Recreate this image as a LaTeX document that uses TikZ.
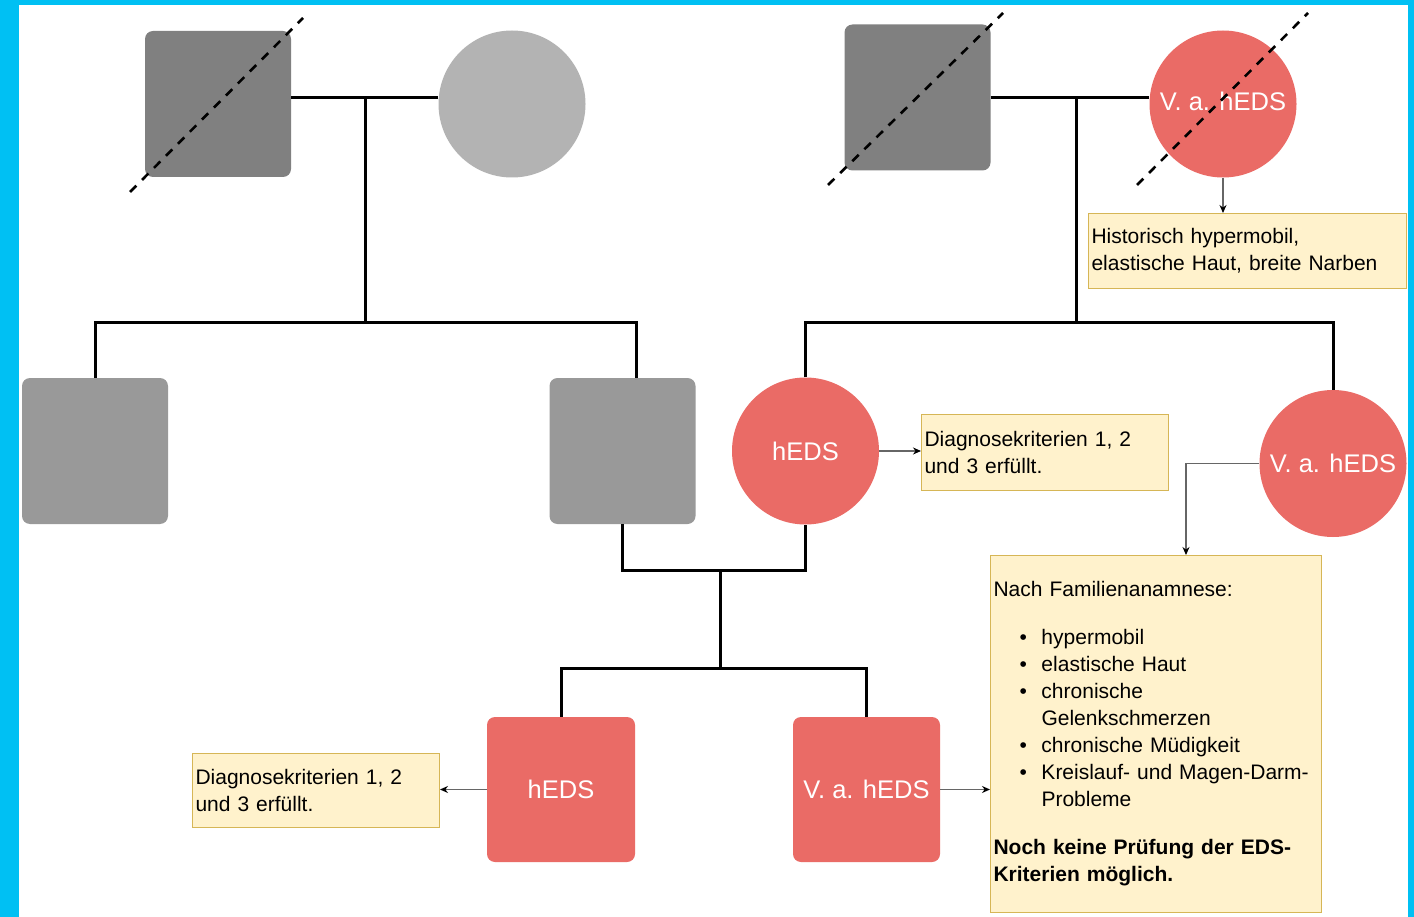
\documentclass[tikz,border=0pt]{standalone}
\usepackage{fontspec}
\setmainfont{Liberation Sans}
\usetikzlibrary{arrows.meta,calc}
\definecolor{bluebg}{RGB}{0,192,243}
\definecolor{reddx}{HTML}{EA6B66}
\definecolor{notefill}{HTML}{FFF2CC}
\definecolor{notedraw}{HTML}{D6B656}
\definecolor{darkg}{HTML}{808080}
\definecolor{midg}{HTML}{999999}
\definecolor{lightg}{HTML}{B3B3B3}
\begin{document}
\begin{tikzpicture}[x=1pt,y=-1pt,
  sqbox/.style={rectangle, rounded corners=8pt, minimum width=146pt, minimum height=146pt, inner sep=0pt},
  circ/.style={circle, minimum size=147pt, inner sep=0pt},
  lbl/.style={text=white, font=\fontsize{25.5}{30}\selectfont},
  note/.style={draw=notedraw, fill=notefill, line width=1pt, inner xsep=3pt, inner ysep=0pt, align=left, font=\fontsize{21}{27}\selectfont, anchor=north west},
  ped/.style={line width=3pt, draw=black},
  conn/.style={line width=1.2pt, draw=black!60, -{Stealth[length=8pt,width=7pt,black]}},
  dashdiag/.style={line width=2.6pt, draw=black, dash pattern=on 9pt off 8pt}
]
\useasboundingbox (0,0) rectangle (1414,917);
\fill[bluebg] (0,0) rectangle (1414,917);
\fill[white] (19,5) rectangle (1408,917);

% generation I
\node[sqbox, fill=darkg] (sq1) at (218,104) {};
\node[circ, fill=lightg] (c1) at (512,104) {};
\node[sqbox, fill=darkg] (sq2) at (917.5,97.5) {};
\node[circ, fill=reddx, lbl] (c2) at (1223,104) {\raisebox{6pt}{V. a. hEDS}};

% generation II
\node[sqbox, fill=midg] (b1) at (95,451) {};
\node[sqbox, fill=midg] (b2) at (622.5,451) {};
\node[circ, fill=reddx, lbl] (h1) at (805.5,451) {hEDS};
\node[circ, fill=reddx, lbl] (c3) at (1333,463.5) {V. a. hEDS};

% generation III
\node[sqbox, fill=reddx, lbl, minimum width=148pt, minimum height=145pt] (k1) at (561,789.5) {hEDS};
\node[sqbox, fill=reddx, lbl, minimum width=147pt, minimum height=145pt] (k2) at (866.5,789.5) {V. a. hEDS};

% notes
\node[note, text width=312pt, minimum height=75pt] (n1) at (1088,213) {Historisch hypermobil,\\elastische Haut, breite Narben};
\node[note, text width=241pt, minimum height=76pt] (n2) at (921,414) {Diagnosekriterien 1, 2\\und 3 erfüllt.};
\node[note, text width=241pt, minimum height=74pt] (n4) at (192,753) {Diagnosekriterien 1, 2\\und 3 erfüllt.};
\node[note, text width=325pt, minimum height=357pt] (n3) at (990,555) {Nach Familienanamnese:\\[21pt]
\hspace*{26pt}\makebox[22pt][l]{\textbullet}hypermobil\\
\hspace*{26pt}\makebox[22pt][l]{\textbullet}elastische Haut\\
\hspace*{26pt}\makebox[22pt][l]{\textbullet}chronische\\
\hspace*{48pt}Gelenkschmerzen\\
\hspace*{26pt}\makebox[22pt][l]{\textbullet}chronische Müdigkeit\\
\hspace*{26pt}\makebox[22pt][l]{\textbullet}Kreislauf- und Magen-Darm-\\
\hspace*{48pt}Probleme\\[21pt]
\textbf{Noch keine Prüfung der EDS-}\\
\textbf{Kriterien möglich.}};

% coordinates
\coordinate (m1) at (365,98);
\coordinate (s1) at (365,323);
\coordinate (m2) at (1076,98);
\coordinate (s2) at (1076,323);
\coordinate (m3) at (720,570);
\coordinate (s3) at (720,668);

% pedigree lines
\draw[ped] (sq1.east |- m1) -- (c1.west |- m1);
\draw[ped] (m1) -- (s1);
\draw[ped] (b1.north) |- (s1) -| ($(b2.north)+(14,0)$);
\draw[ped] (sq2.east |- m2) -- (c2.west |- m2);
\draw[ped] (m2) -- (s2);
\draw[ped] (h1.north) |- (s2) -| (c3.north);
\draw[ped] (b2.south) |- (m3) -| (h1.south);
\draw[ped] (m3) -- (s3);
\draw[ped] (k1.north) |- (s3) -| (k2.north);

% deceased marks
\draw[dashdiag] ($(sq1.center)+(-88,88)$) -- ($(sq1.center)+(85,-86)$);
\draw[dashdiag] ($(sq2.center)+(-89.5,87.5)$) -- ($(sq2.center)+(85.5,-84.5)$);
\draw[dashdiag] ($(c2.center)+(-86,81)$) -- ($(c2.center)+(85,-91)$);

% annotation arrows
\draw[conn] (c2.south) -- (c2.south |- n1.north);
\draw[conn] (h1.east) -- (h1.east -| n2.west);
\draw[conn] (c3.west) -| ($(n3.north west)+(196,0)$);
\draw[conn] (k1.west) -- (k1.west -| n4.east);
\draw[conn] (k2.east) -- (k2.east -| n3.west);
\end{tikzpicture}
\end{document}
